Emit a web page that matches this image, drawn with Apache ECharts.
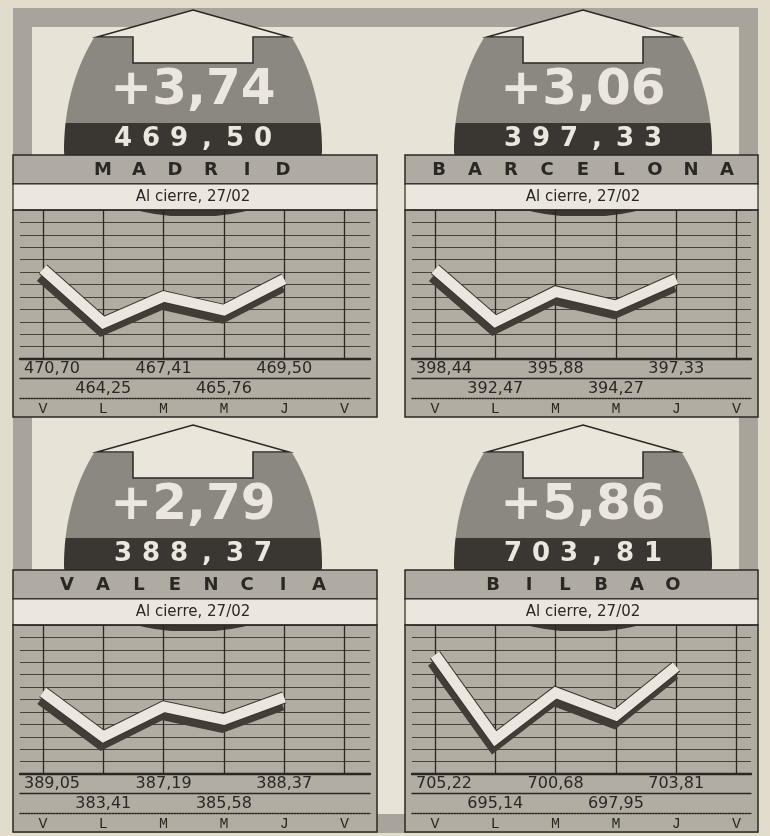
<!DOCTYPE html>
<html><head><meta charset="utf-8">
<script src="https://cdn.jsdelivr.net/npm/echarts@6/dist/echarts.min.js"></script>
<style>html,body{margin:0;padding:0;background:#e2dccd;} #c{width:770px;height:836px;}</style>
</head><body><div id="c"></div>
<script>
// ---- data ----
const days = ['V', 'L', 'M', 'M', 'J', 'V'];
const cities = ['MADRID', 'BARCELONA', 'VALENCIA', 'BILBAO'];
const subtitle = 'Al cierre, 27/02';
const madrid = [470.70, 464.25, 467.41, 465.76, 469.50];
const barcelona = [398.44, 392.47, 395.88, 394.27, 397.33];
const valencia = [389.05, 383.41, 387.19, 385.58, 388.37];
const bilbao = [705.22, 695.14, 700.68, 697.95, 703.81];
const madridRange = [459.9, 477.8];
const barcelonaRange = [388.2, 405.2];
const valenciaRange = [378.7, 397.5];
const bilbaoRange = [690.9, 708.8];

const fmt = v => v.toFixed(2).replace('.', ',');

const C = {
  inner: '#e8e3d7', frame: '#a9a49b', chart: '#b2ada3', banner: '#b0aba2',
  sub: '#ebe7de', ell: '#8b8781', dark: '#3a3632', ink: '#2b2724', grid: '#47423c',
  white: '#ebe7de', arrow: '#ebe6dc', shadow: '#423d37'
};

const panels = [
  { name: cities[0], vals: madrid, range: madridRange, x0: 13, x1: 377, cx: 193, dy: 0 },
  { name: cities[1], vals: barcelona, range: barcelonaRange, x0: 405, x1: 758, cx: 583, dy: 0 },
  { name: cities[2], vals: valencia, range: valenciaRange, x0: 13, x1: 377, cx: 193, dy: 415 },
  { name: cities[3], vals: bilbao, range: bilbaoRange, x0: 405, x1: 758, cx: 583, dy: 415 }
];

const grids = [], xAxes = [], yAxes = [], series = [], elements = [];

elements.push({ type: 'rect', shape: { x: 22.5, y: 17.5, width: 726, height: 806 },
  style: { fill: C.inner, stroke: C.frame, lineWidth: 19 }, z: -20 });

function blobPoints(cx, top) {
  // decorative rounded "ellipse" outline (flat top hidden by arrow)
  const cy = top + 150, rx = 129, ryT = 175, ryB = 67;
  const right = [];
  for (let y = top + 38; y <= cy; y += 3) {
    const t = (cy - y) / ryT; right.push([cx + rx * Math.sqrt(Math.max(0, 1 - t * t)), y]);
  }
  for (let y = cy; y <= cy + ryB; y += 2) {
    const t = (y - cy) / ryB; right.push([cx + rx * Math.sqrt(Math.max(0, 1 - t * t)), y]);
  }
  const left = right.slice().reverse().map(([x, y]) => [2 * cx - x, y]);
  return right.concat(left);
}

panels.forEach((p) => {
  const Y = v => v + p.dy;
  const w = p.x1 - p.x0;
  const cx = p.cx;

  // decorative grid: horizontal rules + table rules
  const dIdx = grids.length;
  grids.push({ left: p.x0 + 7, top: Y(210), width: w - 14, height: 149, outerBoundsMode: 'none', containLabel: false });
  yAxes.push({ type: 'value', gridIndex: dIdx, min: 0, max: 12, interval: 1,
    axisLine: { show: false }, axisTick: { show: false }, axisLabel: { show: false },
    splitLine: { show: true, lineStyle: { color: C.grid, width: 1.2 } } });
  [[0, 2.4, 'solid'], [19.5, 1.3, 'solid'], [39, 1.4, 'dotted']].forEach(([off, lw, type]) => {
    xAxes.push({ type: 'value', gridIndex: dIdx, min: 0, max: 1, position: 'bottom', offset: off,
      axisLine: { show: true, lineStyle: { color: C.ink, width: lw, type: type } },
      axisTick: { show: false }, axisLabel: { show: false }, splitLine: { show: false } });
  });

  // data grid
  const gIdx = grids.length;
  grids.push({ left: p.x0 + 30, top: Y(210), width: 5 * 60.3, height: 149, outerBoundsMode: 'none', containLabel: false });
  const yIdx = yAxes.length;
  yAxes.push({ type: 'value', gridIndex: gIdx, min: p.range[0], max: p.range[1], show: false });
  const keys = days.map((d, i) => i + d);
  const xIdx = xAxes.length;
  const valText = { fontFamily: 'DejaVu Sans', fontSize: 16, color: C.ink };
  const valLabel = Object.assign({ interval: 0, margin: 2,
    rich: { a: Object.assign({ padding: [0, 0, 0, 18] }, valText) } }, valText);
  xAxes.push({ type: 'category', gridIndex: gIdx, data: keys, boundaryGap: false, position: 'bottom', offset: 0,
    axisLine: { show: false }, axisTick: { show: false },
    splitLine: { show: true, interval: 0, lineStyle: { color: C.ink, width: 1.3 } },
    axisLabel: Object.assign({}, valLabel, { formatter: (v) => {
      const i = parseInt(v);
      if (i % 2 !== 0 || i >= p.vals.length) return '';
      return i === 0 ? '{a|' + fmt(p.vals[i]) + '}' : fmt(p.vals[i]);
    } }) });
  xAxes.push({ type: 'category', gridIndex: gIdx, data: keys, boundaryGap: false, position: 'bottom', offset: 19.5,
    axisLine: { show: false }, axisTick: { show: false }, splitLine: { show: false },
    axisLabel: Object.assign({}, valLabel, { formatter: (v) => { const i = parseInt(v); return (i % 2 === 1 && i < p.vals.length) ? fmt(p.vals[i]) : ''; } }) });
  xAxes.push({ type: 'category', gridIndex: gIdx, data: keys, boundaryGap: false, position: 'bottom', offset: 39,
    axisLine: { show: false }, axisTick: { show: false }, splitLine: { show: false },
    axisLabel: { interval: 0, margin: 4, fontFamily: 'Liberation Mono', fontSize: 15, color: C.ink,
      formatter: (v) => days[parseInt(v)] } });

  series.push({ type: 'line', xAxisIndex: xIdx, yAxisIndex: yIdx, data: p.vals, symbol: 'none', clip: false, silent: true, z: 3,
    lineStyle: { width: 12.5, color: C.dark, join: 'miter', cap: 'butt', shadowColor: C.shadow, shadowBlur: 0, shadowOffsetX: -2, shadowOffsetY: 7 } });
  series.push({ type: 'line', xAxisIndex: xIdx, yAxisIndex: yIdx, data: p.vals, symbol: 'none', clip: false, silent: true, z: 4,
    lineStyle: { width: 10.5, color: C.white, join: 'miter', cap: 'butt' } });

  // decoration
  elements.push({ type: 'rect', shape: { x: p.x0, y: Y(210), width: w, height: 207 }, style: { fill: C.chart }, z: -10 });
  elements.push({ type: 'polygon', shape: { points: blobPoints(cx, Y(0)) },
    style: { fill: { type: 'linear', x: 0, y: 0, x2: 0, y2: 1, colorStops: [
      { offset: 0, color: C.ell }, { offset: 0.475, color: C.ell }, { offset: 0.475, color: C.dark }, { offset: 1, color: C.dark }] } }, z: -8 });
  elements.push({ type: 'polygon', shape: { points: [[cx, Y(10)], [cx + 96, Y(37)], [cx + 60, Y(37)], [cx + 60, Y(63)], [cx - 60, Y(63)], [cx - 60, Y(37)], [cx - 96, Y(37)]] },
    style: { fill: C.arrow, stroke: C.ink, lineWidth: 1.5, lineJoin: 'miter' }, z: -6 });
  elements.push({ type: 'rect', shape: { x: p.x0, y: Y(155), width: w, height: 29 }, style: { fill: C.banner, stroke: C.ink, lineWidth: 1.5 }, z: -4 });
  elements.push({ type: 'rect', shape: { x: p.x0, y: Y(184), width: w, height: 26 }, style: { fill: C.sub, stroke: C.ink, lineWidth: 1.2 }, z: -4 });
  elements.push({ type: 'rect', shape: { x: p.x0, y: Y(210), width: w, height: 207 }, style: { fill: null, stroke: C.ink, lineWidth: 1.5 }, z: 10 });

  const n = p.vals.length;
  const change = p.vals[n - 1] - p.vals[n - 2];
  elements.push({ type: 'text', x: cx, y: Y(91), z: -5,
    style: { text: (change >= 0 ? '+' : '') + fmt(change), fill: C.white, font: 'bold 50px "DejaVu Sans"', align: 'center', verticalAlign: 'middle' } });
  const idx = fmt(p.vals[n - 1]).split('');
  idx.forEach((ch, i) => {
    elements.push({ type: 'text', x: cx + (i - (idx.length - 1) / 2) * 28, y: Y(139), z: -5,
      style: { text: ch, fill: C.white, font: 'bold 26px "DejaVu Sans"', align: 'center', verticalAlign: 'middle' } });
  });
  const letters = p.name.split('');
  letters.forEach((ch, i) => {
    elements.push({ type: 'text', x: cx + (i - (letters.length - 1) / 2) * 36, y: Y(170), z: -3,
      style: { text: ch, fill: C.ink, font: 'bold 18px "DejaVu Sans"', align: 'center', verticalAlign: 'middle' } });
  });
  elements.push({ type: 'text', x: cx, y: Y(197.5), z: -3,
    style: { text: subtitle, fill: C.ink, font: '15px "DejaVu Sans"', align: 'center', verticalAlign: 'middle' } });
});

const chart = echarts.init(document.getElementById('c'), null, { renderer: 'canvas' });
chart.setOption({
  backgroundColor: '#e2dccd',
  animation: false,
  grid: grids,
  xAxis: xAxes,
  yAxis: yAxes,
  series: series,
  graphic: { elements: elements }
});
</script>
</body></html>
